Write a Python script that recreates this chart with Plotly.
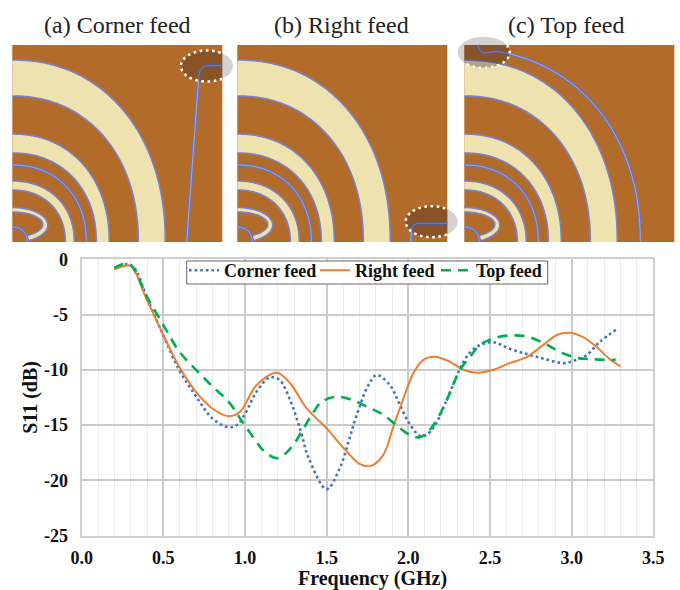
import numpy as np
import plotly.graph_objects as go

W, H = 680, 590

corner_x = [0.2, 0.27, 0.32, 0.4, 0.5, 0.6, 0.7, 0.8, 0.9, 0.95, 1.0, 1.07, 1.15, 1.21, 1.275, 1.34, 1.39, 1.5, 1.58, 1.64, 1.68, 1.755, 1.806,
            1.888, 1.94, 2.0, 2.07, 2.11, 2.16, 2.235, 2.295, 2.337, 2.38, 2.44, 2.52, 2.62, 2.73, 2.83, 2.95, 3.01, 3.09, 3.17, 3.28]
corner_y = [-0.82, -0.42, -0.75, -3.5, -6.9, -10.1, -12.4, -14.4, -15.2, -15.0, -14.0, -12.0, -10.7, -10.9, -12.7, -15.5, -18.0, -20.8, -18.9, -16.2, -14.26, -11.4, -10.48,
            -11.4, -12.9, -14.7, -15.97, -15.9, -15.1, -12.75, -10.6, -9.3, -8.4, -7.76, -7.5, -8.1, -8.6, -9.0, -9.4, -9.2, -8.7, -7.5, -6.3]

right_x = [0.2, 0.25, 0.3, 0.4, 0.5, 0.6, 0.7, 0.8, 0.9, 0.97, 1.07, 1.194, 1.275, 1.378, 1.5, 1.623, 1.704, 1.77, 1.847, 1.908, 1.97,
           2.03, 2.09, 2.163, 2.255, 2.337, 2.42, 2.52, 2.62, 2.73, 2.83, 2.91, 2.99, 3.07, 3.15, 3.23, 3.3]
right_y = [-0.9, -0.65, -0.6, -3.7, -6.85, -9.8, -12.0, -13.5, -14.2, -13.8, -11.4, -10.27, -11.2, -13.5, -15.3, -17.4, -18.54, -18.7, -17.7, -15.16, -12.6,
           -10.33, -9.12, -8.82, -9.28, -10.0, -10.27, -10.0, -9.4, -8.8, -7.7, -6.85, -6.65, -7.05, -7.9, -9.0, -9.7]

top_x = [0.2, 0.25, 0.3, 0.4, 0.5, 0.6, 0.7, 0.8, 0.9, 0.97, 1.05, 1.12, 1.2, 1.285, 1.347, 1.408, 1.47, 1.55, 1.643, 1.755, 1.85, 1.93, 2.01,
         2.07, 2.13, 2.18, 2.235, 2.317, 2.38, 2.42, 2.46, 2.52, 2.62, 2.73, 2.83, 2.93, 3.03, 3.13, 3.27]
top_y = [-0.8, -0.45, -0.5, -3.4, -5.95, -8.4, -10.0, -11.5, -12.9, -14.4, -16.1, -17.4, -18.0, -17.0, -15.6, -14.1, -12.9, -12.45, -12.66, -13.4, -14.1, -15.07, -15.9,
         -16.1, -15.46, -14.4, -12.75, -10.0, -8.8, -8.0, -7.55, -7.15, -6.9, -7.0, -7.6, -8.4, -8.9, -9.05, -9.1]

series_names = ["Corner feed", "Right feed", "Top feed"]
panel_titles = ["(a) Corner feed", "(b) Right feed", "(c) Top feed"]
x_ticks = [0.0, 0.5, 1.0, 1.5, 2.0, 2.5, 3.0, 3.5]
y_ticks = [0, -5, -10, -15, -20, -25]

SERIF = "Liberation Serif"
BROWN, CREAM, EDGE = "#b36b29", "#eee3ae", "#7b80c8"
TOP, BOT, PW = 45, 242, 210
LEFTS = [12.3, 237.3, 464.3]
TITLE_X = [117, 341, 565.5]


def px(x):
    return x / W


def py(y):
    return 1 - y / H


def to_path(pts, close=False):
    s = "M" + " L".join(f"{px(a):.5f},{py(b):.5f}" for a, b in pts)
    return s + (" Z" if close else "")


def curve(left, rx, ry, n=2.15, num=70):
    t = np.linspace(0, np.pi / 2, num)
    xs = rx * np.sin(t) ** (2 / n)
    ys = ry * np.cos(t) ** (2 / n)
    return [(left + a, BOT - b) for a, b in zip(xs, ys)]


def path_shape(path, fill=None, color=None, width=0, dash=None):
    line = dict(color=color or "rgba(0,0,0,0)", width=width)
    if dash:
        line["dash"] = dash
    d = dict(type="path", xref="paper", yref="paper", path=path, line=line)
    if fill:
        d["fillcolor"] = fill
    return d


def band(outer_pts, inner_pts):
    """Filled band with strokes only along its two long edges."""
    return [
        path_shape(to_path(outer_pts + inner_pts[::-1], True), fill=CREAM),
        path_shape(to_path(outer_pts), color=EDGE, width=1.6),
        path_shape(to_path(inner_pts), color=EDGE, width=1.6),
    ]


def trace_line(path):
    return [path_shape(path, color="#6d74b8", width=3.2), path_shape(path, color="#a7abd0", width=1)]


def ellipse_pts(cx, cy, rx, ry):
    t = np.linspace(0, 2 * np.pi, 160)
    return cx + rx * np.cos(t), cy + ry * np.sin(t)


shapes = []
HIGHLIGHT = [(207, 66), (431.7, 221.7), (483.7, 52.3)]
FEEDS = [
    [(221.7, 65.7), (208, 65.7), (203, 67), (200, 71), (198.8, 76), (186.7, 242)],
    [(447.3, 223.3), (418, 223.3), (413.5, 225), (411.3, 229), (410.8, 242)],
]
for i, left in enumerate(LEFTS):
    cx, cy = HIGHLIGHT[i]
    ex, ey = ellipse_pts(cx, cy, 26, 15.5)
    shapes.append(path_shape(to_path(list(zip(ex, ey)), True), fill="#d2d2d2"))
    shapes.append(dict(type="rect", xref="paper", yref="paper", x0=px(left), x1=px(left + PW),
                       y0=py(BOT), y1=py(TOP), fillcolor=BROWN, line=dict(width=0)))
    for outer, inner in [((153, 182), (126, 146)), ((97, 108), (84, 89)), ((62, 61), (53, 52))]:
        shapes += band(curve(left, *outer), curve(left, *inner))
    shapes += trace_line(to_path(curve(left, 74, 77)))
    # inner loop: opens toward the bottom of the panel
    t_loop = np.radians(np.linspace(90, -62, 60))
    outer_loop = [(left + 35.5 * np.cos(a), BOT - 17 - 17.5 * np.sin(a)) for a in t_loop]
    inner_loop = [(left + 30.5 * np.cos(a), BOT - 17.5 - 12.5 * np.sin(a)) for a in t_loop]
    shapes += band(outer_loop, inner_loop)
    shapes += trace_line(to_path(curve(left, 15, 15)))
    if i < 2:
        shapes += trace_line(to_path(FEEDS[i]))
    else:
        feed = [(478, 45), (479.5, 50), (484, 53), (493, 52)]
        arc = [p for p in curve(left, 176, 193) if p[0] > 495]
        shapes += trace_line(to_path(feed + arc))
    cxs, cys = np.clip(ex, left, left + PW), np.clip(ey, TOP, BOT)
    shapes.append(path_shape(to_path(list(zip(cxs, cys)), True), fill="rgba(50,35,30,0.32)"))
    mask = (ex >= left) & (ex <= left + PW) & (ey >= TOP) & (ey <= BOT)
    idx = np.where(~mask)[0]
    order = np.roll(np.arange(len(ex)), -int(idx[-1]) - 1) if len(idx) else np.arange(len(ex))
    vis = [(ex[k], ey[k]) for k in order if mask[k]]
    shapes.append(path_shape(to_path(vis), color="white", width=2.6, dash="2.6px,3.6px"))

# legend frame, drawn over the grid and under the legend text
shapes.append(dict(type="rect", xref="paper", yref="paper", x0=px(186.7), x1=px(547.7), y0=py(284), y1=py(261),
                   fillcolor="white", line=dict(color="#666666", width=1), layer="above"))

annotations = [
    dict(text=t, x=px(c), y=py(25), xref="paper", yref="paper", showarrow=False,
         xanchor="center", yanchor="middle", font=dict(family=SERIF, size=24, color="#222222"))
    for t, c in zip(panel_titles, TITLE_X)
]
annotations.append(dict(text="Frequency (GHz)", x=px(372), y=py(578.2), xref="paper", yref="paper", showarrow=False,
                        xanchor="center", yanchor="middle",
                        font=dict(family=SERIF, size=20, color="#111111", weight="bold")))

fig = go.Figure()
fig.add_trace(go.Scatter(x=corner_x, y=corner_y, name=series_names[0], mode="lines", legendwidth=86,
                         line=dict(color="#4472c4", width=2.6, dash="2.6px,3px", shape="spline")))
fig.add_trace(go.Scatter(x=right_x, y=right_y, name=series_names[1], mode="lines", legendwidth=76,
                         line=dict(color="#ed7d31", width=2, shape="spline")))
fig.add_trace(go.Scatter(x=top_x, y=top_y, name=series_names[2], mode="lines", legendwidth=76,
                         line=dict(color="#00b050", width=2.6, dash="10px,7px", shape="spline")))

tick_font = dict(family=SERIF, size=18, color="#111111", weight="bold")

fig.update_layout(
    width=W, height=H, margin=dict(l=0, r=0, t=0, b=0, autoexpand=False), autosize=False,
    paper_bgcolor="white", plot_bgcolor="white",
    shapes=shapes, annotations=annotations,
    font=dict(family=SERIF),
    legend=dict(orientation="h", x=px(184), y=py(252), xanchor="left", yanchor="top",
                bgcolor="rgba(0,0,0,0)", borderwidth=0,
                font=dict(family=SERIF, size=18, color="#111111", weight="bold"),
                itemwidth=30, tracegroupgap=0),
    xaxis=dict(domain=[px(81.7), px(653.3)], range=[0, 3.5], tickvals=x_ticks, ticktext=[f"{v:.1f}" for v in x_ticks],
               tickfont=tick_font, ticks="", ticklen=0, ticklabelstandoff=5,
               showgrid=True, gridcolor="#cbcbcb", gridwidth=1.6,
               minor=dict(dtick=0.1, showgrid=True, gridcolor="#ececec", gridwidth=1, ticklen=0),
               showline=True, linecolor="#cfcfcf", linewidth=2, mirror=True, zeroline=False, automargin=True),
    yaxis=dict(domain=[py(535.5), py(259.3)], range=[-25, 0], tickvals=y_ticks, ticktext=[str(v) for v in y_ticks],
               tickfont=tick_font, ticks="", ticklen=0, ticklabelstandoff=8,
               showgrid=True, gridcolor="#cbcbcb", gridwidth=1.6,
               showline=True, linecolor="#cfcfcf", linewidth=2, mirror=True, zeroline=False, automargin=True,
               title=dict(text="S11 (dB)", font=dict(family=SERIF, size=20, color="#111111", weight="bold"), standoff=1)),
)

fig.write_html("out.html", config=dict(displayModeBar=False),
               post_script="document.body.style.margin='0';document.body.style.overflow='hidden';")
